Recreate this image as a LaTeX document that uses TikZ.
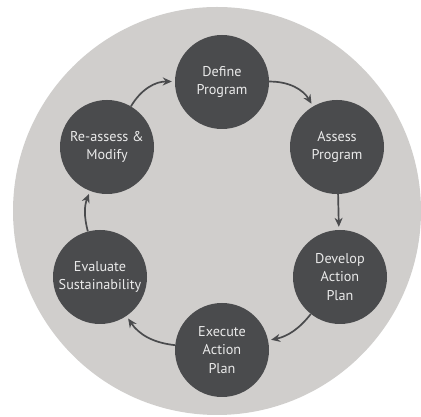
\documentclass[tikz,border=0pt]{standalone}
\usepackage{fontspec}
\setmainfont{PT Sans}
\usetikzlibrary{arrows.meta}

\definecolor{ringgray}{HTML}{D0CECC}
\definecolor{stagedark}{HTML}{4A4B4D}
\definecolor{stagetext}{HTML}{EAEAEA}

\begin{document}
\begin{tikzpicture}[x=1pt,y=1pt]
        \tikzstyle{stage} = [circle, minimum size=94pt, inner sep=0pt, fill=stagedark, text=stagetext, align=center, font=\fontsize{14.2}{18.5}\selectfont]
        \tikzstyle{arrow} = [draw=stagedark, line width=1.7pt, -{Stealth[length=9pt,width=8pt]}, shorten >=3pt]

        \useasboundingbox (0,0) rectangle (421,417);
        \fill[ringgray] (217,206) circle (204);

        % Nodes
        \node (define) [stage] at (222,335) {Define\\Program};
        \node (assess) [stage] at (337,270) {Assess\\Program};
        \node (develop) [stage] at (340,140) {Develop\\Action\\Plan};
        \node (execute) [stage] at (222,67) {Execute\\Action\\Plan};
        \node (evaluate) [stage] at (100,140) {Evaluate\\Sustainability};
        \node (reassess) [stage] at (107,270) {Re-assess \&\\Modify};

        % Arrows
        \draw [arrow] (define) to[bend left=30] (assess);
        \draw [arrow] (assess) -- (develop);
        \draw [arrow] (develop) to[bend left=20] (execute);
        \draw [arrow] (execute) to[bend left=25] (evaluate);
        \draw [arrow] (evaluate) to[bend left=18] (reassess);
        \draw [arrow] (reassess) to[bend left=30] (define);

    \end{tikzpicture}
\end{document}
